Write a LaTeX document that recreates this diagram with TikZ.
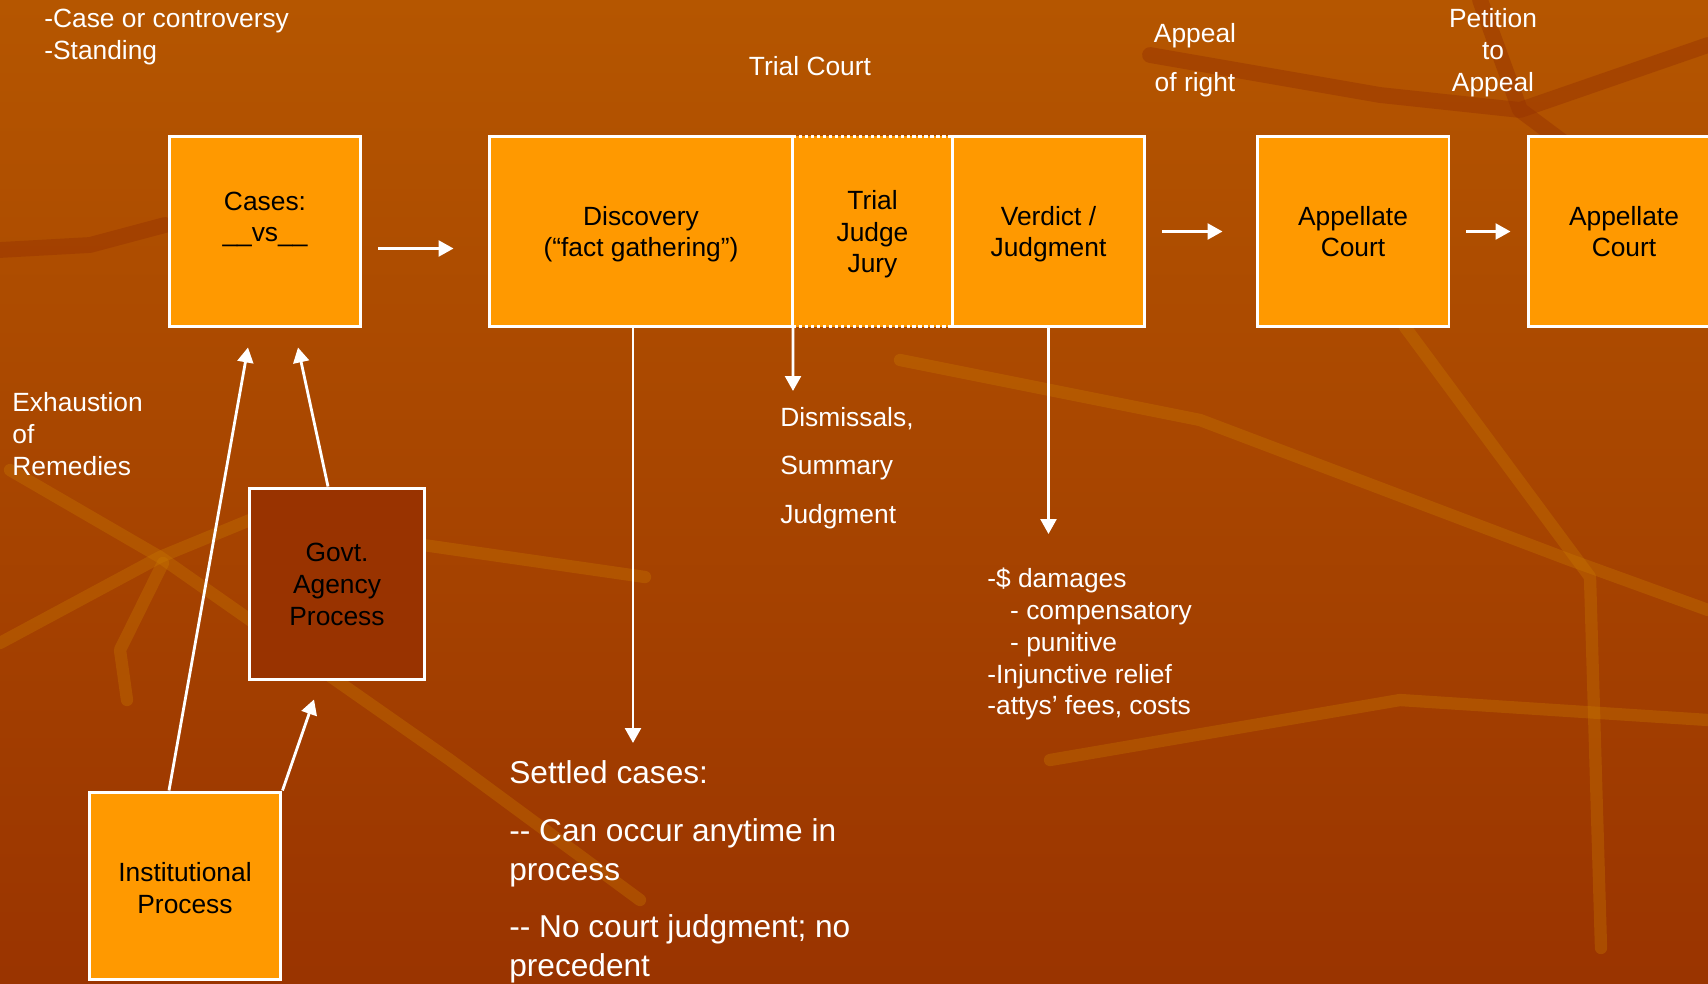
\documentclass[tikz,border=0pt]{standalone}
\usepackage{fontspec}
\setmainfont{Liberation Sans}
\usepackage{tikz}
\usetikzlibrary{arrows.meta, calc, positioning}
\usepackage{xcolor}

\definecolor{boxorange}{HTML}{FF9900}
\definecolor{agencybrown}{HTML}{993300}
\definecolor{bgtop}{RGB}{181,86,0}
\definecolor{bgbottom}{RGB}{154,52,0}
\definecolor{streaklight}{RGB}{200,120,0}
\definecolor{streakdark}{RGB}{150,50,0}

\newcommand{\boxfont}{\fontsize{15}{18}\selectfont}
\newcommand{\notefont}{\fontsize{15}{18.2}\selectfont}
\newcommand{\settledfont}{\fontsize{18}{22.2}\selectfont}
% struts so that box texts sit alike
\newcommand{\boxtop}{\rule{0pt}{14.9pt}}
\newcommand{\boxbot}{\rule[-4pt]{0pt}{4pt}}

\begin{document}
\begin{tikzpicture}[x=0.02cm, y=-0.02cm,
	stage/.style={draw=white, line width=1.7pt, fill=boxorange, inner sep=0pt,
		minimum width=3.84cm, minimum height=3.82cm, align=center, font=\boxfont},
	note/.style={text=white, font=\notefont, inner sep=0pt},
	flow/.style={draw=white, line width=1.6pt, -{Triangle[length=8.5pt, width=9pt]}},
	streak/.style={line width=7pt, line cap=round, line join=round, draw=streaklight, opacity=.35},
	darkstreak/.style={line width=9pt, line cap=round, line join=round, draw=streakdark, opacity=.45}]
	\useasboundingbox (0,0) rectangle (1708,984);
	% background
	\shade[top color=bgtop, bottom color=bgbottom] (0,0) rectangle (1708,984);
	\draw[streak] (10,470) -- (160,557) -- (450,760) -- (640,900);
	\draw[streak] (0,643) -- (160,557) -- (250,520) -- (645,577);
	\draw[streak] (163,563) -- (120,650) -- (127,700);
	\draw[streak] (1405,327) -- (1590,577) -- (1601,948);
	\draw[streak] (900,360) -- (1200,420) -- (1570,560) -- (1708,610);
	\draw[streak] (1050,760) -- (1400,700) -- (1708,720);
	\draw[darkstreak] (0,250) -- (90,245) -- (165,225);
	\draw[darkstreak] (1150,55) -- (1380,95) -- (1520,110) -- (1708,45);
	\draw[darkstreak] (1480,0) -- (1520,110) -- (1708,250);

	% trial court boxes
	\node[stage, draw=none, outer sep=0pt, minimum width=3.18cm] (trial) at (872.5,231.5) {\boxtop Trial\\Judge\\Jury\boxbot};
	\node[stage] (cases) at (265,231.5) {\boxtop Cases:\\\_\_vs\_\_\rule[-21pt]{0pt}{21pt}};
	\node[stage, minimum width=6.08cm] (disc) at (641,231.5) {\boxtop Discovery\\(“fact gathering”)\boxbot};
	\node[stage, minimum width=3.86cm] (verdict) at (1048.5,231.5) {\boxtop Verdict /\\Judgment\boxbot};
	\node[stage] (appA) at (1353,231.5) {\boxtop Appellate\\Court\boxbot};
	\node[stage] (appB) at (1624,231.5) {\boxtop Appellate\\Court\boxbot};
	\draw[white, line width=1.7pt, dash pattern=on 1.8pt off 1.6pt]
		(trial.north west) -- (trial.north east) (trial.south west) -- (trial.south east);

	% other processes
	\node[stage, fill=agencybrown, minimum width=3.52cm, minimum height=3.84cm] (govt) at (337,584) {\boxtop Govt.\\Agency\\Process\boxbot};
	\node[stage, minimum height=3.76cm] (inst) at (185,886) {\boxtop Institutional\\Process\rule[-2pt]{0pt}{2pt}};

	% labels
	\node[note, anchor=west, align=left] (justice) at (44,37.5) {-Case or controversy\\-Standing};
	\node[note] (trialcourt) at (810,66) {Trial Court};
	\node[note, align=center] (appright) at (1195,60) {Appeal\\[9.5pt]of right};
	\node[note, align=center] (petition) at (1493,53) {Petition\\to\\Appeal};
	\node[note, anchor=west, align=left] (exhaust) at (12,434) {Exhaustion\\of\\Remedies};
	\node[note, anchor=west, align=left] (dismiss) at (780,468) {Dismissals,\\[9.5pt]Summary\\[9.5pt]Judgment};
	\node[note, anchor=west, align=left] (remedy) at (987,644)
		{-\$ damages\\\hspace*{13pt}- compensatory\\\hspace*{13pt}- punitive\\-Injunctive relief\\-attys’ fees, costs};
	\node[note, font=\settledfont, anchor=west, align=left] (settled) at (509,872)
		{Settled cases:\\[10.5pt]-{}- Can occur anytime in\\process\\[10.5pt]-{}- No court judgment; no\\precedent};

	\coordinate (settletop) at (633,743);
	\coordinate (dismisstop) at (793,391);
	\coordinate (remedytop) at (1048.5,534);

	% arrows
	\draw[flow] ($(cases.east)+(16,17)$) -- ($(disc.west)+(-34,17)$);
	\draw[flow] ($(verdict.east)+(16,0)$) -- ($(appA.west)+(-33,0)$);
	\draw[flow] ($(appA.east)+(16,0)$) -- ($(appB.west)+(-16,0)$);
	\draw[flow] ($(disc.south)+(-8,0)$) -- (settletop);
	\draw[flow] (trial.south west) -- (dismisstop);
	\draw[flow] (verdict.south) -- (remedytop);
	\draw[flow] ($(inst.north)+(-16,0)$) -- ($(cases.south)+(-17,19)$);
	\draw[flow] ($(govt.north)+(-9,0)$) -- ($(cases.south)+(33,19)$);
	\draw[flow] (inst.north east) -- ($(govt.south)+(-23,18)$);
\end{tikzpicture}
\end{document}
